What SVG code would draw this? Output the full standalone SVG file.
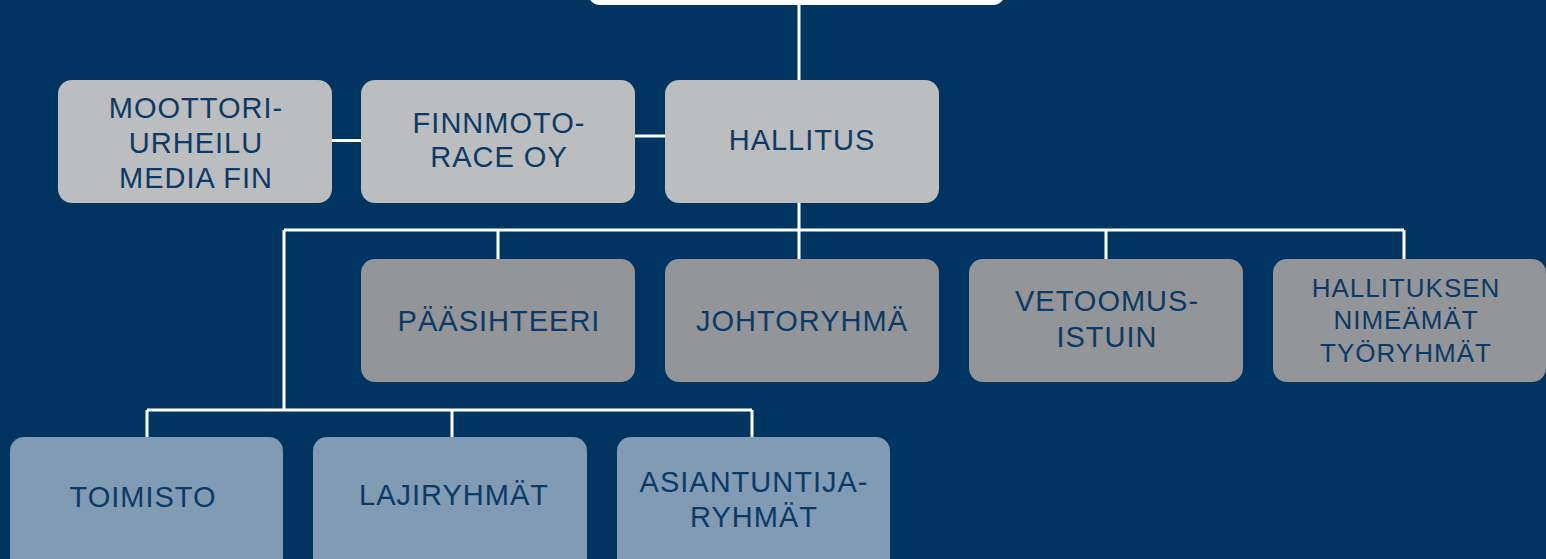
<svg xmlns="http://www.w3.org/2000/svg" width="1546" height="559" viewBox="0 0 1546 559">
<style>
.l{fill:#bcbdbf}
.m{fill:#939598}
.d{fill:#809bb3}
text{font-family:"Liberation Sans",Arial,sans-serif;font-size:29px;fill:#0b3a66;text-anchor:middle;letter-spacing:1px}
.s{font-size:26px}
.c{stroke:#fff;stroke-width:3;fill:none}
</style>
<rect width="1546" height="559" fill="#003562"/>
<g id="top"><rect x="588" y="-30" width="417" height="35" rx="12" fill="#fff"/></g>
<g id="connectors" class="c">
<path d="M799 5V80"/>
<path d="M332 140.5H361"/>
<path d="M635 136H665"/>
<path d="M799 203V230M284 230H1404M498 230V259M799 230V259M1106 230V259M1404 230V259"/>
<path d="M284 230V410M147 410H752M147 410V437M452 410V437M752 410V437"/>
</g>
<g id="moottori"><rect class="l" x="58" y="80" width="274" height="123" rx="14"/><text x="196" y="118">MOOTTORI-</text><text x="196" y="153">URHEILU</text><text x="196" y="188">MEDIA FIN</text></g>
<g id="finnmoto"><rect class="l" x="361" y="80" width="274" height="123" rx="14"/><text x="499" y="133">FINNMOTO-</text><text x="499" y="167">RACE OY</text></g>
<g id="hallitus"><rect class="l" x="665" y="80" width="274" height="123" rx="14"/><text x="802" y="150">HALLITUS</text></g>
<g id="paasihteeri"><rect class="m" x="361" y="259" width="274" height="123" rx="14"/><text x="499" y="331">PÄÄSIHTEERI</text></g>
<g id="johtoryhma"><rect class="m" x="665" y="259" width="274" height="123" rx="14"/><text x="802" y="331">JOHTORYHMÄ</text></g>
<g id="vetoomus"><rect class="m" x="969" y="259" width="274" height="123" rx="14"/><text x="1107" y="311">VETOOMUS-</text><text x="1107" y="347">ISTUIN</text></g>
<g id="tyoryhmat"><rect class="m" x="1273" y="259" width="273" height="123" rx="14"/><text class="s" x="1406" y="297">HALLITUKSEN</text><text class="s" x="1406" y="329">NIMEÄMÄT</text><text class="s" x="1406" y="362">TYÖRYHMÄT</text></g>
<g id="toimisto"><rect class="d" x="10" y="437" width="273" height="140" rx="14"/><text x="143" y="507">TOIMISTO</text></g>
<g id="lajiryhmat"><rect class="d" x="313" y="437" width="274" height="140" rx="14"/><text x="454" y="505">LAJIRYHMÄT</text></g>
<g id="asiantuntija"><rect class="d" x="617" y="437" width="273" height="140" rx="14"/><text x="754" y="492">ASIANTUNTIJA-</text><text x="754" y="527">RYHMÄT</text></g>
</svg>
